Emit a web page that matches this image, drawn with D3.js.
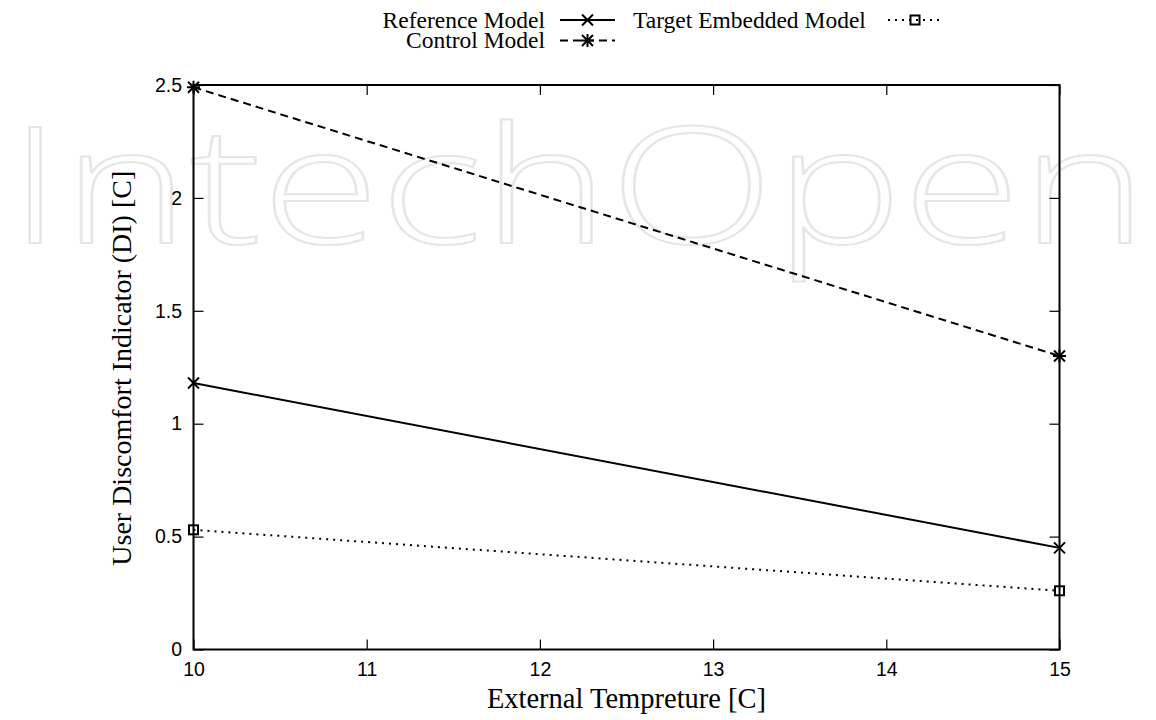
<!DOCTYPE html>
<html><head><meta charset="utf-8">
<script src="https://cdn.jsdelivr.net/npm/d3@7"></script>
<style>body{margin:0;background:#fff}</style>
</head><body>
<svg id="c" width="1156" height="720"></svg>
<script>
const temps = [10, 15];
const referenceModel = [1.18, 0.45];
const controlModel = [2.49, 1.30];
const targetEmbedded = [0.53, 0.26];
const xTicks = [10, 11, 12, 13, 14, 15];
const yTicks = [0, 0.5, 1, 1.5, 2, 2.5];
const yTickLabels = ["0", "0.5", "1", "1.5", "2", "2.5"];

const svg = d3.select("#c");
const L = 193.5, R = 1059.5, T = 85, B = 649.5;
const x = d3.scaleLinear().domain([10, 15]).range([L, R]);
const y = d3.scaleLinear().domain([0, 2.5]).range([B, T]);

// watermark
svg.append("text").attr("x", 8).attr("y", 243)
  .attr("font-family", "Open Sans, Roboto, sans-serif").attr("font-weight", 300)
  .attr("font-size", 162).attr("textLength", 1140).attr("lengthAdjust", "spacingAndGlyphs")
  .attr("fill", "none").attr("stroke", "#e6e6e6").attr("stroke-width", 2)
  .text("IntechOpen");

// axes with inward ticks, mirrored
const tickLen = 10;
const gx = svg.append("g").attr("transform", `translate(0,${B})`)
  .call(d3.axisBottom(x).tickValues(xTicks).tickSize(-tickLen).tickPadding(13).tickFormat(d3.format("d")));
const gx2 = svg.append("g").attr("transform", `translate(0,${T})`)
  .call(d3.axisTop(x).tickValues(xTicks).tickSize(-tickLen).tickFormat(""));
const gy = svg.append("g").attr("transform", `translate(${L},0)`)
  .call(d3.axisLeft(y).tickValues(yTicks).tickSize(-tickLen).tickPadding(11.5).tickFormat((d,i)=>yTickLabels[i]));
const gy2 = svg.append("g").attr("transform", `translate(${R},0)`)
  .call(d3.axisRight(y).tickValues(yTicks).tickSize(-tickLen).tickFormat(""));
[gx, gx2, gy, gy2].forEach(g => {
  g.select(".domain").remove();
  g.selectAll("line").attr("stroke", "#000").attr("stroke-width", 1.2);
  g.selectAll("text").attr("font-family", "Liberation Sans, Arial, sans-serif").attr("font-size", 19.5).attr("fill", "#000");
});
svg.append("rect").attr("x", L).attr("y", T).attr("width", R - L).attr("height", B - T)
  .attr("fill", "none").attr("stroke", "#000").attr("stroke-width", 2);

// axis titles
svg.append("text").attr("x", (L + R) / 2).attr("y", 708).attr("text-anchor", "middle")
  .attr("font-family", "Liberation Serif, Times New Roman, serif").attr("font-size", 28.5)
  .text("External Tempreture [C]");
svg.append("text").attr("transform", `translate(121,${(T + B) / 2 + 1}) rotate(-90)`)
  .attr("text-anchor", "middle").attr("dominant-baseline", "central")
  .attr("font-family", "Liberation Serif, Times New Roman, serif").attr("font-size", 28)
  .text("User Discomfort Indicator (DI) [C]");

// markers
function marker(g, type, cx, cy) {
  const s = 5.5;
  if (type === "x" || type === "star") {
    g.append("path").attr("d", `M${cx - s},${cy - s}L${cx + s},${cy + s}M${cx - s},${cy + s}L${cx + s},${cy - s}`)
      .attr("stroke", "#000").attr("stroke-width", 2).attr("fill", "none");
  }
  if (type === "star") {
    g.append("path").attr("d", `M${cx},${cy - s - 1}L${cx},${cy + s + 1}M${cx - s - 1},${cy}L${cx + s + 1},${cy}`)
      .attr("stroke", "#000").attr("stroke-width", 2).attr("fill", "none");
  }
  if (type === "square") {
    g.append("rect").attr("x", cx - 4.5).attr("y", cy - 4.5).attr("width", 9).attr("height", 9)
      .attr("stroke", "#000").attr("stroke-width", 2).attr("fill", "none");
  }
}

const series = [
  { name: "Reference Model", vals: referenceModel, dash: null, m: "x" },
  { name: "Control Model", vals: controlModel, dash: "8,5", m: "star" },
  { name: "Target Embedded Model", vals: targetEmbedded, dash: "2,5", m: "square" }
];
const line = d3.line().x((d, i) => x(temps[i])).y(d => y(d));
const plot = svg.append("g");
series.forEach(s => {
  plot.append("path").datum(s.vals).attr("d", line).attr("fill", "none")
    .attr("stroke", "#000").attr("stroke-width", 2).attr("stroke-dasharray", s.dash);
  s.vals.forEach((v, i) => marker(plot, s.m, x(temps[i]), y(v)));
});

// legend
const legPos = [
  { tx: 545, ty: 27.5, anchor: "end", lx1: 560, lx2: 615 },
  { tx: 545, ty: 48, anchor: "end", lx1: 560, lx2: 615 },
  { tx: 633, ty: 27.5, anchor: "start", lx1: 888, lx2: 942 }
];
const leg = svg.append("g");
series.forEach((s, i) => {
  const p = legPos[i];
  leg.append("text").attr("x", p.tx).attr("y", p.ty).attr("text-anchor", p.anchor)
    .attr("font-family", "Liberation Serif, Times New Roman, serif").attr("font-size", 23.5).text(s.name);
  const ly = p.ty - 7.5;
  leg.append("line").attr("x1", p.lx1).attr("x2", p.lx2).attr("y1", ly).attr("y2", ly)
    .attr("stroke", "#000").attr("stroke-width", 2).attr("stroke-dasharray", s.dash);
  marker(leg, s.m, (p.lx1 + p.lx2) / 2, ly);
});
</script>
</body></html>
